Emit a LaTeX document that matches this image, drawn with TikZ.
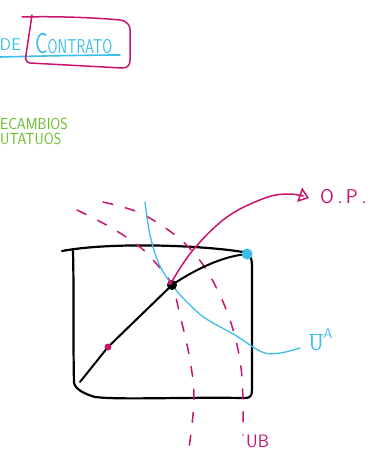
\documentclass[tikz,border=0pt]{standalone}
\usepackage{graphicx}
\usetikzlibrary{arrows.meta}
\definecolor{skcyan}{RGB}{60,190,235}
\definecolor{skmag}{RGB}{200,20,110}
\definecolor{skgreen}{RGB}{105,190,40}
\tikzset{
  ink/.style={line cap=round,line join=round},
  boxline/.style={ink,black,line width=2.2pt},
  cyanline/.style={ink,skcyan,line width=1.3pt},
  magline/.style={ink,skmag,line width=1.5pt},
  magdash/.style={magline,dash pattern=on 10pt off 13pt},
  txt/.style={inner sep=0pt,font=\sffamily},
}
\begin{document}
\begin{tikzpicture}[x=1pt,y=-1pt]
\useasboundingbox (0,0) rectangle (369,456);
\clip (0,0) rectangle (369,456);
\fill[white] (0,0) rectangle (369,456);

% title
\node[txt,anchor=east,text=skcyan,font=\sffamily\fontsize{17}{17}\selectfont] (de) at (21,45) {DE};
\node[txt,anchor=west,text=skcyan,font=\sffamily\fontsize{20}{20}\selectfont] (contrato) at (35,44) {\scalebox{0.72}[1]{{\fontsize{29}{29}\selectfont C}ONTRATO}};
\draw[cyanline,line width=1.6pt] (0,57) .. controls (40,56) and (90,55) .. (120,55);
\draw[magline] (22,17) .. controls (60,16) and (100,18) .. (120,20)
  .. controls (128,21) and (131,26) .. (130,35) -- (130,60)
  .. controls (130,66) and (127,68) .. (122,68)
  -- (30,63) .. controls (26,62) and (25,60) .. (26,55)
  -- (32,15);

% green text
\node[txt,anchor=west,text=skgreen,font=\sffamily\fontsize{16}{16}\selectfont] (t1) at (0,124) {\scalebox{0.9}[1]{ECAMBIOS}};
\node[txt,anchor=west,text=skgreen,font=\sffamily\fontsize{16}{16}\selectfont] (t2) at (0,139) {\scalebox{0.9}[1]{UTATUOS}};

% Edgeworth box
\draw[boxline] (62,251) .. controls (110,242) and (200,245) .. (243,252)
  .. controls (250,254) and (252,258) .. (252,265)
  -- (252,390) .. controls (252,396) and (250,398) .. (245,398)
  .. controls (180,397) and (120,400) .. (95,397)
  .. controls (85,394) and (76,390) .. (74,383)
  .. controls (73,340) and (74,290) .. (73,251);

% dashed indifference curves of B
\draw[magdash] plot[smooth,tension=0.6] coordinates {(77,210) (110,227) (140,247) (160,268) (172,285) (180,315) (190,360) (194,400) (189,448)};
\draw[magdash] plot[smooth,tension=0.6] coordinates {(103,202) (140,213) (175,235) (198,258) (215,285) (230,320) (240,360) (243,400) (243,435)};

% U^A curve
\draw[cyanline] plot[smooth,tension=0.6] coordinates {(145,202) (150,235) (159,264) (172,285) (185,300) (205,318) (235,335) (262,352) (280,353) (300,348)};

% contract curve
\coordinate (o) at (80,382);
\node[circle,fill=black,inner sep=0pt,minimum size=10pt] (op) at (172,285) {};
\node[circle,fill=skcyan,inner sep=0pt,minimum size=11pt] (cb) at (247,254) {};
\node[circle,fill=skmag,inner sep=0pt,minimum size=7pt] (md) at (108,347) {};
\draw[boxline,line width=2pt] (o) -- (md) -- (op.center) .. controls (200,266) and (225,257) .. (cb);
\fill[skmag] (170,283) circle (2.2pt);

% arrow to O.P.
\draw[magline,-{Triangle[open,length=10pt,width=15pt,line width=1.5pt]}] plot[smooth,tension=0.6] coordinates {(171,283) (193,250) (227,217) (265,198) (290,194) (309,198)};
\node[txt,anchor=west,text=skmag,font=\sffamily\fontsize{20}{20}\selectfont] (opl) at (320,197) {O\,.\,P\,.};

% labels
\node[txt,anchor=west,text=skcyan,font=\sffamily\fontsize{22}{22}\selectfont] (ua) at (309,340) {$\overline{\mbox{U}}^{\mbox{\fontsize{14}{14}\selectfont A}}$};
\node[txt,anchor=west,text=skmag,font=\sffamily\fontsize{18}{18}\selectfont] (ub) at (246,441) {UB};
\end{tikzpicture}
\end{document}
